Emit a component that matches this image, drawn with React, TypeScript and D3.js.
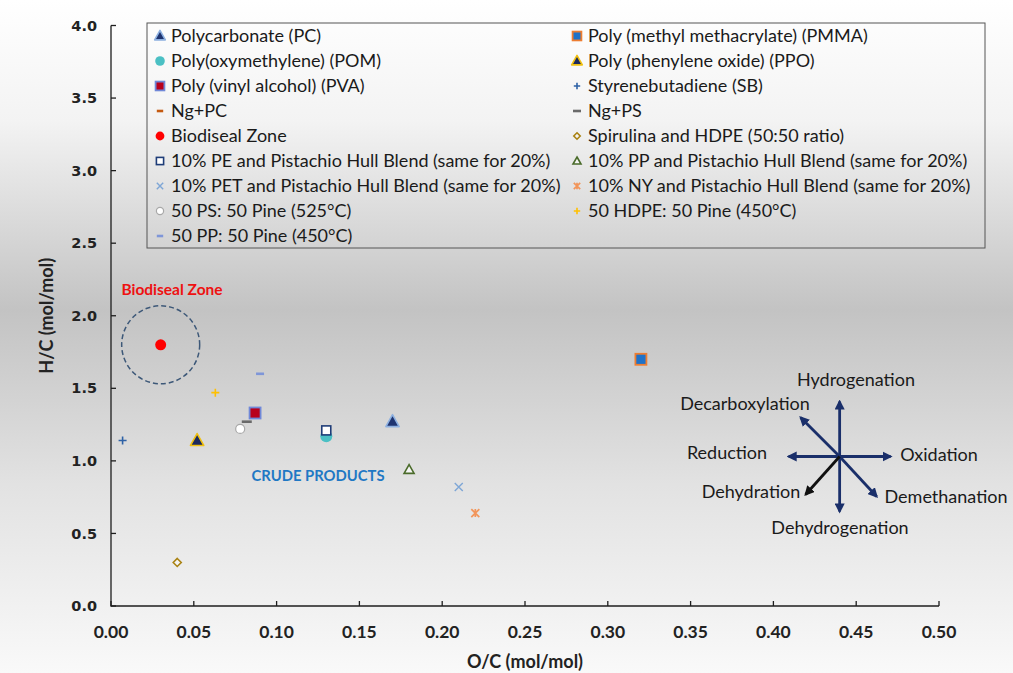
import React from "react";
import * as d3 from "d3";

// ---------- data ----------
const seriesNames = [
  "Polycarbonate (PC)",
  "Poly (methyl methacrylate) (PMMA)",
  "Poly(oxymethylene) (POM)",
  "Poly (phenylene oxide) (PPO)",
  "Poly (vinyl alcohol) (PVA)",
  "Styrenebutadiene (SB)",
  "Ng+PC",
  "Ng+PS",
  "Biodiseal Zone",
  "Spirulina and HDPE (50:50 ratio)",
  "10% PE and Pistachio Hull Blend (same for 20%)",
  "10% PP and Pistachio Hull Blend (same for 20%)",
  "10% PET and Pistachio Hull Blend (same for 20%)",
  "10% NY and Pistachio Hull Blend (same for 20%)",
  "50 PS: 50 Pine (525°C)",
  "50 HDPE: 50 Pine (450°C)",
  "50 PP: 50 Pine (450°C)",
];
const ocValues = [0.17, 0.32, 0.13, 0.052, 0.087, 0.007, 0.087, 0.082, 0.03, 0.04, 0.13, 0.18, 0.21, 0.22, 0.078, 0.063, 0.09];
const hcValues = [1.27, 1.7, 1.17, 1.14, 1.33, 1.14, 1.33, 1.27, 1.8, 0.3, 1.21, 0.94, 0.82, 0.64, 1.22, 1.47, 1.6];
// draw order (back to front)
const drawOrder = [6, 0, 1, 2, 10, 3, 4, 5, 7, 8, 9, 11, 12, 13, 14, 15, 16];

const xTicks = [0, 0.05, 0.1, 0.15, 0.2, 0.25, 0.3, 0.35, 0.4, 0.45, 0.5];
const yTicks = [0, 0.5, 1, 1.5, 2, 2.5, 3, 3.5, 4];

const xTitle = "O/C (mol/mol)";
const yTitle = "H/C (mol/mol)";
const zoneLabel = "Biodiseal Zone";
const crudeLabel = "CRUDE PRODUCTS";
const compassCenter = [0.44, 1.03];
const compassLabels = ["Hydrogenation", "Decarboxylation", "Reduction", "Oxidation", "Dehydration", "Demethanation", "Dehydrogenation"];

// ---------- styles ----------
type Sty = { shape: string; fill: string; stroke: string; size: number };
const styles: Sty[] = [
  { shape: "tri", fill: "#1f3470", stroke: "#8db0e0", size: 7 },
  { shape: "sq", fill: "#1f72c8", stroke: "#ed7d31", size: 5.5 },
  { shape: "circ", fill: "#4bc0c4", stroke: "none", size: 6 },
  { shape: "tri", fill: "#1c2a5e", stroke: "#f0c010", size: 7 },
  { shape: "sq", fill: "#b8001c", stroke: "#7088d8", size: 5.5 },
  { shape: "plus", fill: "none", stroke: "#2e62a6", size: 4 },
  { shape: "dash", fill: "none", stroke: "#c55a11", size: 4 },
  { shape: "dash", fill: "none", stroke: "#6a6a6a", size: 5 },
  { shape: "circ", fill: "#ff0000", stroke: "none", size: 5.5 },
  { shape: "diam", fill: "#f4f4f4", stroke: "#a98212", size: 4 },
  { shape: "osq", fill: "#ffffff", stroke: "#1f3d78", size: 4.5 },
  { shape: "otri", fill: "#f4f4f4", stroke: "#4a6b2a", size: 5 },
  { shape: "x", fill: "none", stroke: "#7ea6d6", size: 4 },
  { shape: "star", fill: "none", stroke: "#f2955a", size: 4 },
  { shape: "circ", fill: "#ffffff", stroke: "#a8a8a8", size: 4.5 },
  { shape: "plus", fill: "none", stroke: "#ffc000", size: 4 },
  { shape: "dash", fill: "none", stroke: "#7f96d8", size: 4 },
];

const W = 1013;
const H = 673;
const FONT = "Lato, 'Open Sans', sans-serif";

const x = d3.scaleLinear().domain([0, 0.5]).range([111, 939]);
const y = d3.scaleLinear().domain([0, 4]).range([606, 25.5]);

function Marker({ s, cx, cy, scale = 1 }: { s: Sty; cx: number; cy: number; scale?: number }) {
  const r = s.size * scale;
  switch (s.shape) {
    case "tri": {
      const p = `M${cx},${cy - r}L${cx + r * 0.95},${cy + r * 0.7}L${cx - r * 0.95},${cy + r * 0.7}Z`;
      return <path d={p} fill={s.fill} stroke={s.stroke} strokeWidth={1.6} strokeLinejoin="round" />;
    }
    case "otri": {
      const p = `M${cx},${cy - r}L${cx + r},${cy + r * 0.75}L${cx - r},${cy + r * 0.75}Z`;
      return <path d={p} fill={s.fill} stroke={s.stroke} strokeWidth={1.6} />;
    }
    case "sq":
      return <rect x={cx - r} y={cy - r} width={2 * r} height={2 * r} fill={s.fill} stroke={s.stroke} strokeWidth={1.8} />;
    case "osq":
      return <rect x={cx - r} y={cy - r} width={2 * r} height={2 * r} fill={s.fill} stroke={s.stroke} strokeWidth={1.6} />;
    case "circ":
      return <circle cx={cx} cy={cy} r={r} fill={s.fill} stroke={s.stroke} strokeWidth={1.2} />;
    case "diam": {
      const p = `M${cx},${cy - r}L${cx + r},${cy}L${cx},${cy + r}L${cx - r},${cy}Z`;
      return <path d={p} fill={s.fill} stroke={s.stroke} strokeWidth={1.6} />;
    }
    case "plus":
      return (
        <path d={`M${cx - r},${cy}H${cx + r}M${cx},${cy - r}V${cy + r}`} stroke={s.stroke} strokeWidth={1.6} fill="none" />
      );
    case "x":
      return (
        <path d={`M${cx - r},${cy - r}L${cx + r},${cy + r}M${cx + r},${cy - r}L${cx - r},${cy + r}`} stroke={s.stroke} strokeWidth={1.4} fill="none" />
      );
    case "star":
      return (
        <path
          d={`M${cx - r},${cy - r}L${cx + r},${cy + r}M${cx + r},${cy - r}L${cx - r},${cy + r}M${cx},${cy - r}V${cy + r}`}
          stroke={s.stroke}
          strokeWidth={1.7}
          fill="none"
        />
      );
    case "dash":
      return <path d={`M${cx - r},${cy}H${cx + r}`} stroke={s.stroke} strokeWidth={2.6} fill="none" />;
  }
  return null;
}

export default function App() {
  React.useEffect(() => {
    document.body.style.margin = "0";
  }, []);

  const [ccx, ccy] = [x(compassCenter[0]), y(compassCenter[1])];
  const navy = "#1a2f6a";
  const arrows: [number, number, string][] = [
    [0, -55, navy],
    [0, 55, navy],
    [-51, 0, navy],
    [51, 0, navy],
    [-39, -39, navy],
    [37, 40, navy],
    [-34, 38, "#111111"],
  ];
  const labelPos: [number, number][] = [
    [856, 386],
    [745, 410],
    [727, 459],
    [939, 461],
    [751, 498],
    [946, 503],
    [840, 534],
  ];

  return (
    <svg width={W} height={H} style={{ position: "absolute", left: 0, top: 0, display: "block" }} fontFamily={FONT}>
      <defs>
        <linearGradient id="bg" x1="0" y1="0" x2="0" y2="1">
          <stop offset="0" stopColor="#ffffff" />
          <stop offset="0.18" stopColor="#f3f3f3" />
          <stop offset="0.46" stopColor="#c3c3c3" />
          <stop offset="0.72" stopColor="#e2e2e2" />
          <stop offset="1" stopColor="#f9f9f9" />
        </linearGradient>
        <marker id="ahN" viewBox="0 0 10 10" refX="8" refY="5" markerWidth="3.6" markerHeight="3.6" orient="auto" markerUnits="strokeWidth">
          <path d="M0,0L10,5L0,10Z" fill={navy} />
        </marker>
        <marker id="ahB" viewBox="0 0 10 10" refX="8" refY="5" markerWidth="3.6" markerHeight="3.6" orient="auto" markerUnits="strokeWidth">
          <path d="M0,0L10,5L0,10Z" fill="#111111" />
        </marker>
      </defs>
      <rect x={0} y={0} width={W} height={H} fill="url(#bg)" />

      {/* axes */}
      <g stroke="#1e1e1e" strokeWidth={1.3} fill="none">
        <path d={`M${x(0)},${y(4)}V${y(0)}H${x(0.5)}`} />
        {yTicks.map((t) => (
          <path key={"yt" + t} d={`M${x(0)},${y(t)}h5`} />
        ))}
        {xTicks.map((t) => (
          <path key={"xt" + t} d={`M${x(t)},${y(0)}v-5`} />
        ))}
      </g>
      {yTicks.map((t) => (
        <text key={"yl" + t} x={97} y={y(t)} dy="0.35em" textAnchor="end" fontFamily="'DejaVu Sans', sans-serif" fontWeight="bold" fontSize={14.5} fill="#222">
          {d3.format(".1f")(t)}
        </text>
      ))}
      {xTicks.map((t) => (
        <text key={"xl" + t} x={x(t)} y={638} textAnchor="middle" fontWeight="bold" fontSize={17.5} fill="#222">
          {d3.format(".2f")(t)}
        </text>
      ))}
      <text x={525} y={668} textAnchor="middle" fontWeight="bold" fontSize={18} fill="#222">
        {xTitle}
      </text>
      <text transform={`translate(53,${y(2)}) rotate(-90)`} textAnchor="middle" fontWeight="bold" fontSize={18} fill="#222">
        {yTitle}
      </text>

      {/* biodiesel zone */}
      <circle cx={x(ocValues[8])} cy={y(hcValues[8])} r={39} fill="none" stroke="#3d5878" strokeWidth={1.5} strokeDasharray="5,3" />
      <text x={172} y={295} textAnchor="middle" fontWeight="bold" fontSize={15.5} fill="#ee1111">
        {zoneLabel}
      </text>
      <text x={318} y={481} textAnchor="middle" fontWeight="bold" fontSize={14.8} fill="#1f78c4">
        {crudeLabel}
      </text>

      {/* points */}
      {drawOrder.map((i) => (
        <Marker key={"pt" + i} s={styles[i]} cx={x(ocValues[i])} cy={y(hcValues[i])} />
      ))}

      {/* compass */}
      {arrows.map(([dx, dy, c], i) => (
        <line
          key={"ar" + i}
          x1={ccx}
          y1={ccy}
          x2={ccx + dx}
          y2={ccy + dy}
          stroke={c}
          strokeWidth={2.8}
          markerEnd={c === navy ? "url(#ahN)" : "url(#ahB)"}
        />
      ))}
      {compassLabels.map((l, i) => (
        <text key={"cl" + i} x={labelPos[i][0]} y={labelPos[i][1]} textAnchor="middle" fontSize={18} fill="#1a1a1a">
          {l}
        </text>
      ))}

      {/* legend */}
      <rect x={147} y={23} width={838} height={225} fill="none" stroke="#555" strokeWidth={1} />
      {seriesNames.map((n, i) => {
        const col = i % 2;
        const row = Math.floor(i / 2);
        const mx = col === 0 ? 160 : 577;
        const cy = 36 + row * 25;
        return (
          <g key={"lg" + i}>
            <Marker s={styles[i]} cx={mx} cy={cy} scale={0.8} />
            <text x={mx + 11} y={cy} dy="0.36em" fontSize={18} fill="#1a1a1a">
              {n}
            </text>
          </g>
        );
      })}
    </svg>
  );
}
